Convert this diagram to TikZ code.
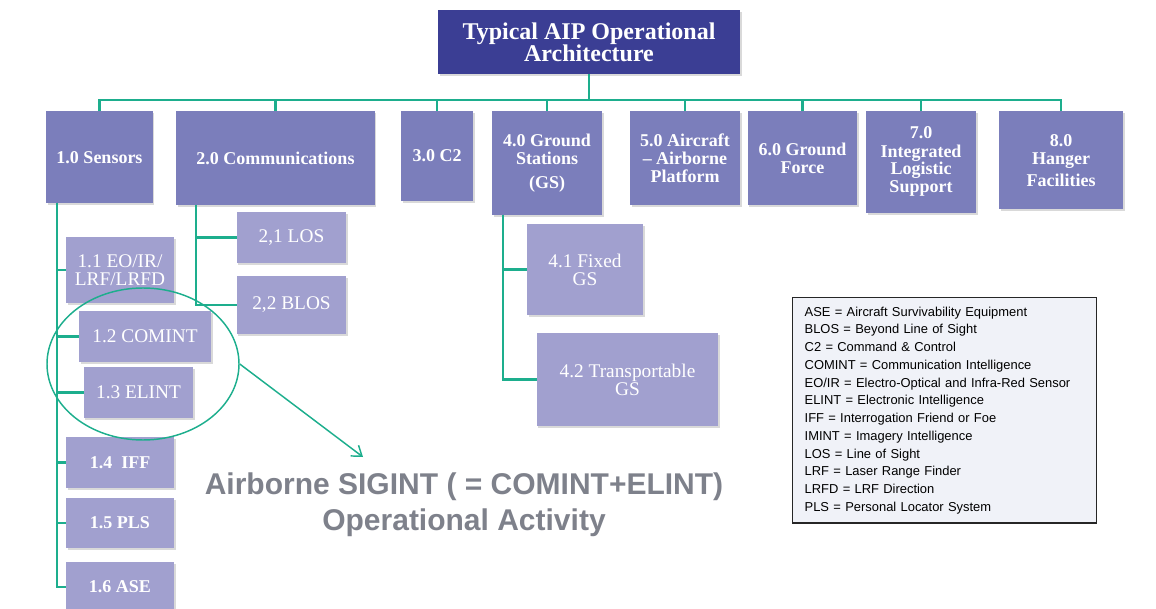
\documentclass[tikz,border=0pt]{standalone}
\usepackage{fontspec}
\setmainfont{Liberation Serif}
\newfontfamily\arialfont{Liberation Sans}
\usetikzlibrary{arrows.meta,shapes.geometric,shadows}
\definecolor{topblue}{HTML}{3B3E94}
\definecolor{mainblue}{HTML}{7B7EBB}
\definecolor{subblue}{HTML}{A1A0CF}
\definecolor{linkteal}{HTML}{1DAE8D}
\definecolor{keyfill}{HTML}{F0F2F8}
\definecolor{capgray}{HTML}{7E818B}

\begin{document}
\begin{tikzpicture}[x=0.75pt,y=-0.75pt,
  box/.style={rectangle,text=white,align=center,inner sep=1pt,
    drop shadow={shadow xshift=1.2pt,shadow yshift=-1.5pt,opacity=0.3}},
  topbox/.style={box,fill=topblue,font=\fontsize{18pt}{16.5pt}\selectfont\bfseries,
    minimum width=226.5pt,minimum height=48pt},
  mainbox/.style={box,fill=mainblue,font=\fontsize{13.5pt}{13.5pt}\selectfont\bfseries,anchor=north},
  subbox/.style={box,fill=subblue,font=\fontsize{14.5pt}{13.5pt}\selectfont},
  subbold/.style={subbox,font=\fontsize{13.5pt}{13.5pt}\selectfont\bfseries},
  link/.style={linkteal,line width=1.6pt},
]
  \useasboundingbox (0,0) rectangle (1156,609);
  \node[topbox] (top) at (589,42) {Typical AIP Operational\\Architecture};

  % first level
  \node[mainbox,minimum width=80pt,minimum height=69pt] (sens) at (99.5,111) {1.0 Sensors};
  \node[mainbox,minimum width=149pt,minimum height=70.5pt] (comm) at (275.5,111) {2.0 Communications};
  \node[mainbox,minimum width=54pt,minimum height=67pt] (c2) at (437,111) {3.0 C2};
  \node[mainbox,minimum width=82.5pt,minimum height=78pt] (gs) at (547,111) {4.0 Ground\\Stations\\[4pt](GS)};
  \node[mainbox,minimum width=82.5pt,minimum height=70.5pt] (air) at (685,111) {5.0 Aircraft\\-- Airborne\\Platform};
  \node[mainbox,minimum width=82pt,minimum height=70pt] (gf) at (802.5,111) {6.0 Ground\\Force};
  \node[mainbox,minimum width=82.5pt,minimum height=76pt] (ils) at (921,111) {7.0\\Integrated\\Logistic\\Support};
  \node[mainbox,minimum width=93pt,minimum height=73.5pt] (hf) at (1061,111) {8.0\\Hanger\\[3pt]Facilities};
  \foreach \n in {sens,comm,c2,gs,air,gf,ils,hf}
    \draw[link] (top.south) -- ++(0,26) -| (\n.north);

  % sensors
  \node[subbox,minimum width=81pt,minimum height=49.5pt] (s11) at (120,270) {1.1 EO/IR/\\LRF/LRFD};
  \node[subbox,minimum width=99pt,minimum height=38pt] (s12) at (145,336.5) {1.2 COMINT};
  \node[subbox,minimum width=82pt,minimum height=38pt] (s13) at (138.5,392.5) {1.3 ELINT};
  \node[subbold,minimum width=81pt,minimum height=38pt] (s14) at (120,462.5) {1.4\ \ IFF};
  \node[subbold,minimum width=81pt,minimum height=37.5pt] (s15) at (120,523) {1.5 PLS};
  \node[subbold,minimum width=81pt,minimum height=38pt] (s16) at (120,587) {1.6 ASE};
  \coordinate (sensbus) at (57,203);
  \foreach \n in {s11,s12,s13,s14,s15,s16}
    \draw[link] (sensbus) |- (\n.west);

  % communications
  \node[subbox,minimum width=82pt,minimum height=38pt] (c21) at (291.5,237.5) {2,1 LOS};
  \node[subbox,minimum width=82pt,minimum height=43.5pt] (c22) at (291.5,305) {2,2 BLOS};
  \coordinate (commbus) at (196,205);
  \foreach \n in {c21,c22}
    \draw[link] (commbus) |- (\n.west);

  % ground stations
  \node[subbox,minimum width=87pt,minimum height=68pt] (g41) at (585,269.5) {4.1 Fixed\\GS};
  \node[subbox,minimum width=136pt,minimum height=70pt] (g42) at (627.5,379.5) {4.2 Transportable\\GS};
  \coordinate (gsbus) at (503,215);
  \foreach \n in {g41,g42}
    \draw[link] (gsbus) |- (\n.west);

  % sigint
  \node[ellipse,draw=linkteal,line width=1.1pt,minimum width=144pt,minimum height=114pt] (ring) at (143,364) {};
  \coordinate (ringtip) at (363,457);
  \draw[linkteal,line width=1.1pt,-{Straight Barb[length=7pt,width=10pt]}] (ring.east) -- (ringtip);
  \node[align=center,text=capgray,font=\arialfont\bfseries\fontsize{22.5pt}{27pt}\selectfont] (caption) at (464,505)
    {Airborne SIGINT ( = COMINT+ELINT)\\Operational Activity};

  % legend
  \node[draw=black!85,line width=1pt,fill=keyfill,anchor=north west,minimum width=228pt,minimum height=169pt,
    text width=210pt,inner xsep=9pt,align=left,font=\arialfont\fontsize{9.7pt}{13.3pt}\selectfont] (key) at (792,297)
    {ASE = Aircraft Survivability Equipment\\
     BLOS = Beyond Line of Sight\\
     C2 = Command \& Control\\
     COMINT = Communication Intelligence\\
     EO/IR = Electro-Optical and Infra-Red Sensor\\
     ELINT = Electronic Intelligence\\
     IFF = Interrogation Friend or Foe\\
     IMINT = Imagery Intelligence\\
     LOS = Line of Sight\\
     LRF = Laser Range Finder\\
     LRFD = LRF Direction\\
     PLS = Personal Locator System};
\end{tikzpicture}
\end{document}
